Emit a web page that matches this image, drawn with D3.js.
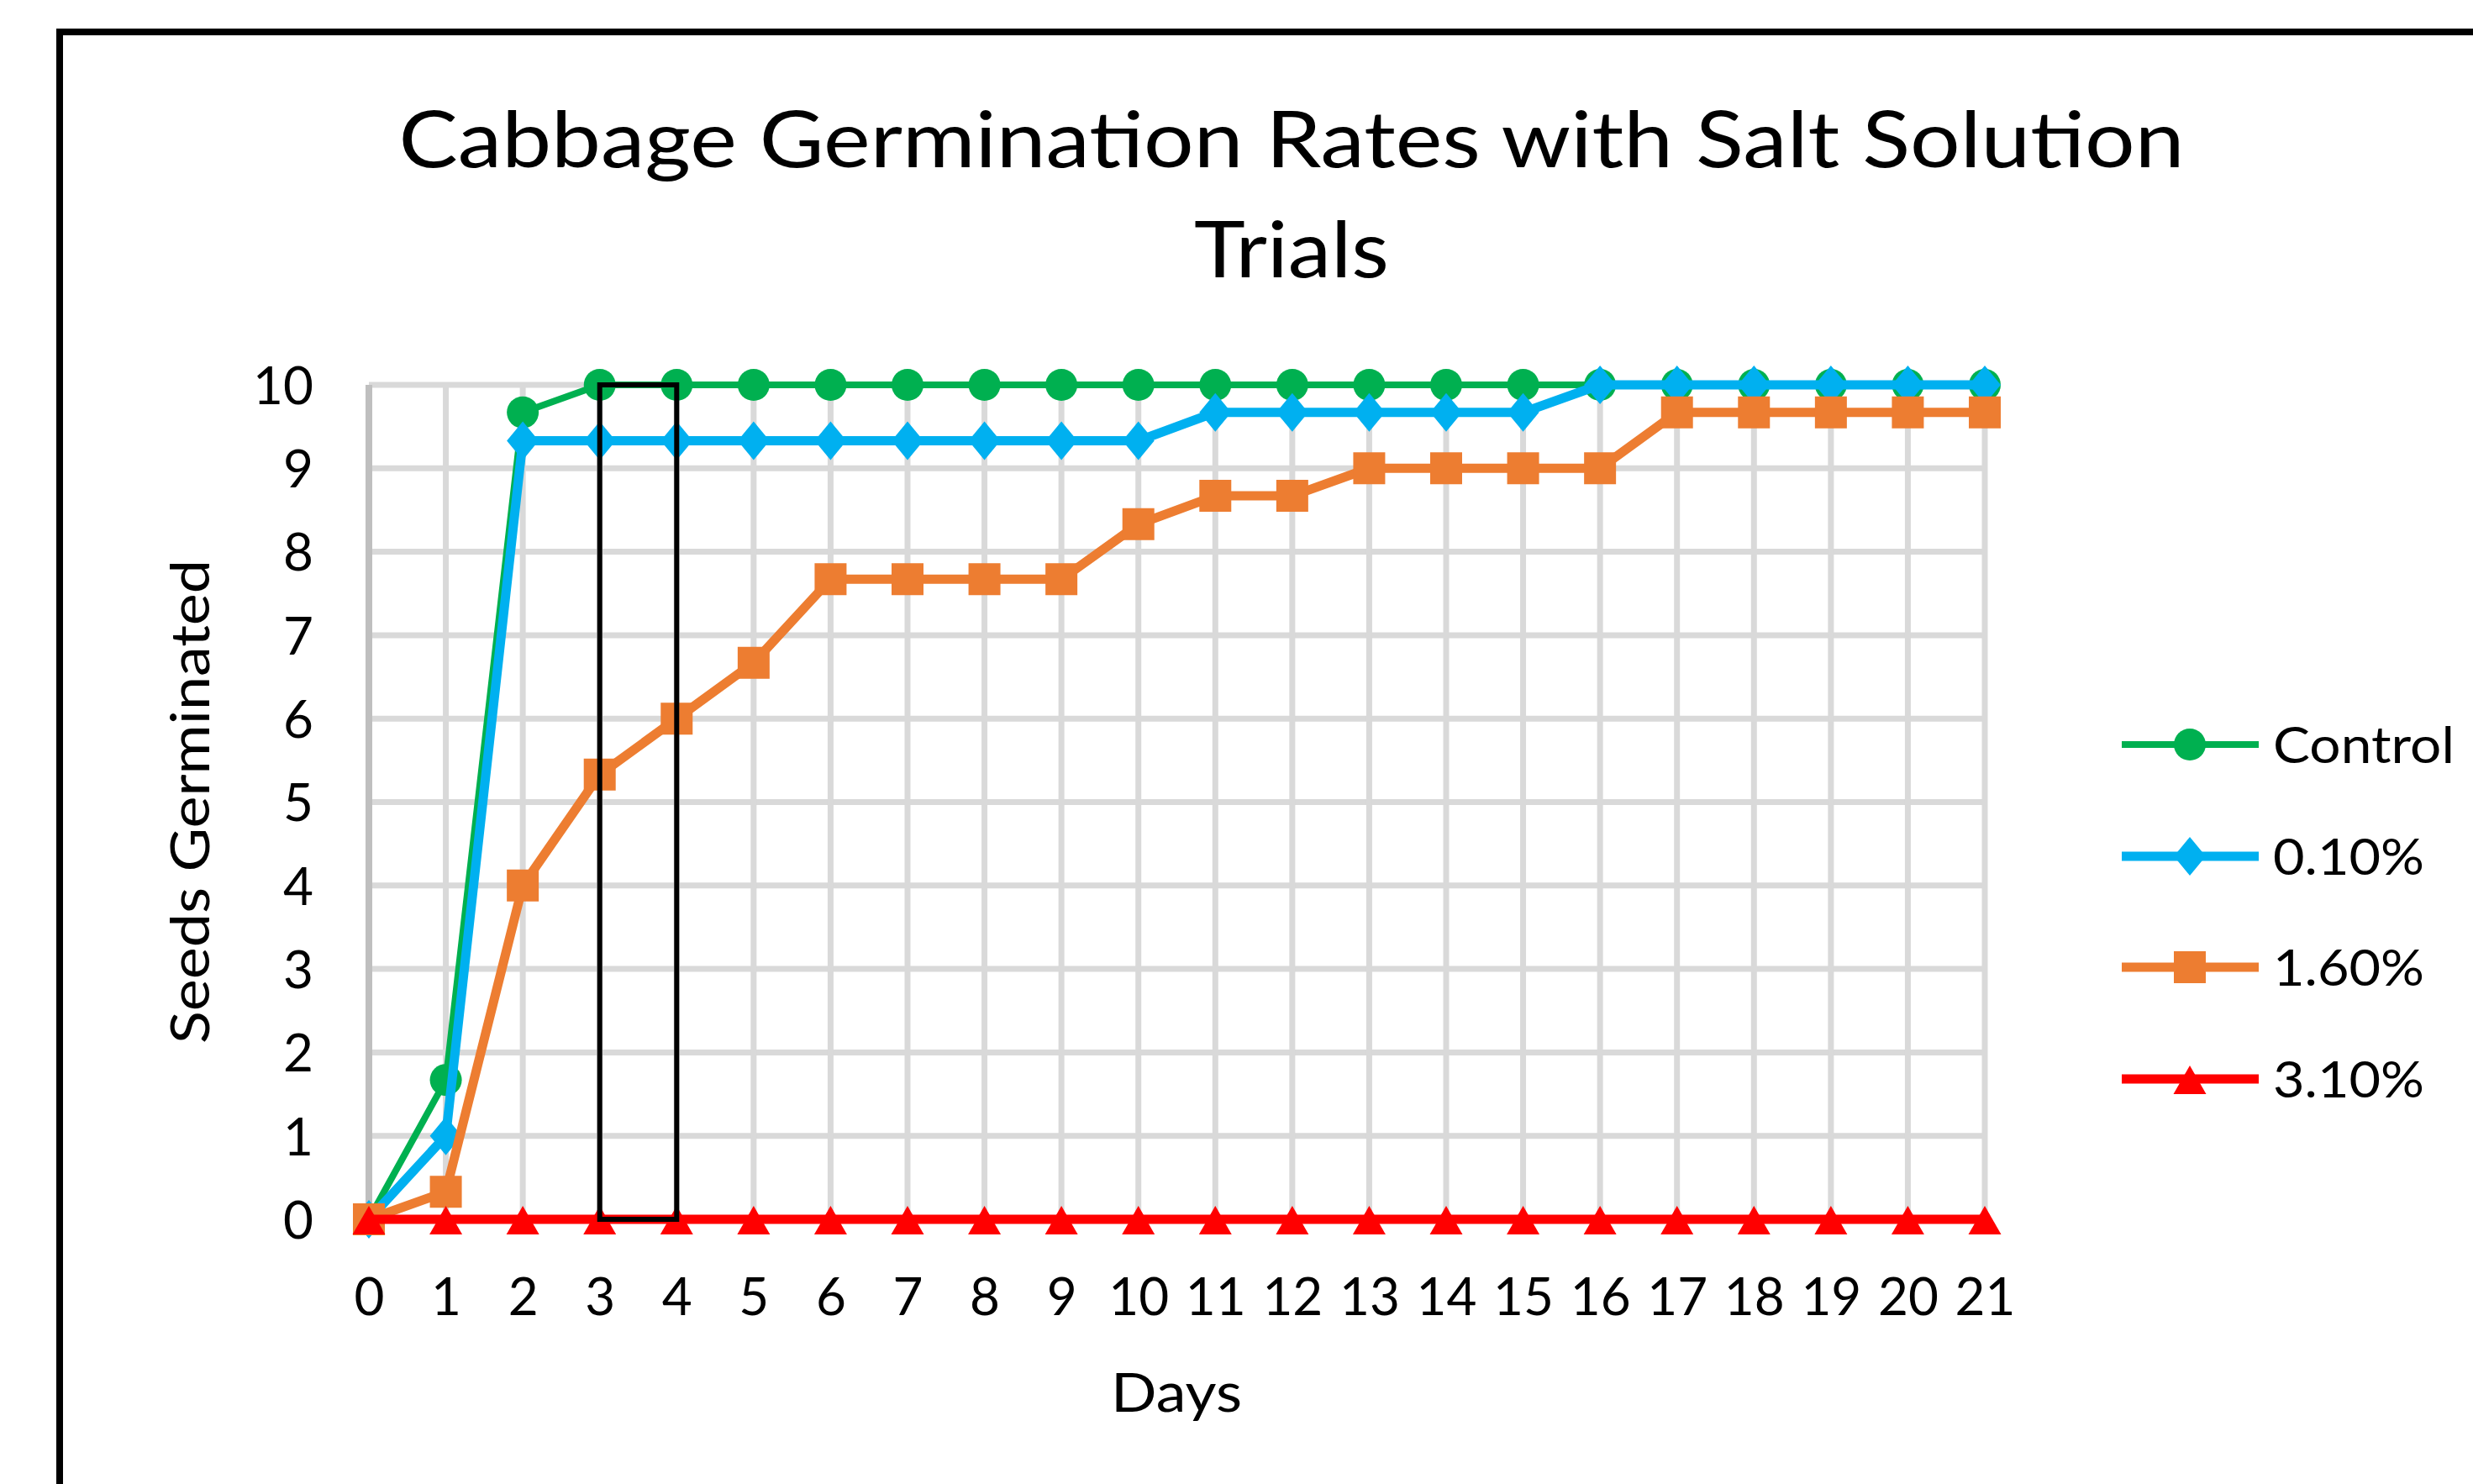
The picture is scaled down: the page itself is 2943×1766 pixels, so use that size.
<!DOCTYPE html>
<html><head><meta charset="utf-8">
<script src="https://cdn.jsdelivr.net/npm/d3@7"></script>
<style>html,body{margin:0;padding:0;background:#fff;overflow:hidden} svg{display:block}</style>
</head><body><script>
// ---- data ----
const days = [0,1,2,3,4,5,6,7,8,9,10,11,12,13,14,15,16,17,18,19,20,21];
const yTicks = [0,1,2,3,4,5,6,7,8,9,10];
const seriesNames = ["Control","0.10%","1.60%","3.10%"];
const control = [0,1.67,9.67,10,10,10,10,10,10,10,10,10,10,10,10,10,10,10,10,10,10,10];
const salt010 = [0,1,9.33,9.33,9.33,9.33,9.33,9.33,9.33,9.33,9.33,9.67,9.67,9.67,9.67,9.67,10,10,10,10,10,10];
const salt160 = [0,0.33,4,5.33,6,6.67,7.67,7.67,7.67,7.67,8.33,8.67,8.67,9,9,9,9,9.67,9.67,9.67,9.67,9.67];
const salt310 = [0,0,0,0,0,0,0,0,0,0,0,0,0,0,0,0,0,0,0,0,0,0];
const highlight = [3,4]; // boxed days
const titleLines = ["Cabbage Germination Rates with Salt Solution","Trials"];

// ---- layout ----
const W = 2943, H = 1766;
const FONT = "Lato, 'Open Sans', sans-serif";
const svg = d3.select("body").append("svg").attr("width", W).attr("height", H);
svg.append("rect").attr("width", W).attr("height", H).attr("fill", "#fff");

const x = d3.scaleLinear().domain([0,21]).range([439,2362]);
const y = d3.scaleLinear().domain([0,10]).range([1451,458]);

// outer border
svg.append("rect").attr("x",71).attr("y",38).attr("width",3100).attr("height",2000)
  .attr("fill","none").attr("stroke","#000").attr("stroke-width",8);

// title
const title = svg.append("g");
title.append("text").attr("x",1537).attr("y",199).attr("text-anchor","middle")
  .attr("font-family",FONT).attr("font-size",94).attr("fill","#000")
  .attr("textLength",2125).attr("lengthAdjust","spacingAndGlyphs").text(titleLines[0]);
title.append("text").attr("x",1537).attr("y",330).attr("text-anchor","middle")
  .attr("font-family",FONT).attr("font-size",94).attr("fill","#000")
  .attr("textLength",232).attr("lengthAdjust","spacingAndGlyphs").text(titleLines[1]);

// gridlines
const grid = svg.append("g");
grid.selectAll("line.h").data(yTicks.filter(d=>d>0)).join("line")
  .attr("x1",x(0)).attr("x2",x(21)).attr("y1",d=>y(d)).attr("y2",d=>y(d))
  .attr("stroke","#d9d9d9").attr("stroke-width",7);
grid.selectAll("line.v").data(days.filter(d=>d>0)).join("line")
  .attr("y1",y(0)).attr("y2",y(10)).attr("x1",d=>x(d)).attr("x2",d=>x(d))
  .attr("stroke","#d9d9d9").attr("stroke-width",7);
// axis lines
grid.append("line").attr("x1",x(0)).attr("x2",x(0)).attr("y1",y(0)).attr("y2",y(10))
  .attr("stroke","#bfbfbf").attr("stroke-width",8);
grid.append("line").attr("x1",x(0)).attr("x2",x(21)).attr("y1",y(0)).attr("y2",y(0))
  .attr("stroke","#bfbfbf").attr("stroke-width",8);

// axes (labels only)
const yAxis = svg.append("g").attr("transform",`translate(${x(0)},0)`)
  .call(d3.axisLeft(y).tickValues(yTicks).tickSize(0).tickPadding(66).tickFormat(d3.format("d")));
yAxis.select(".domain").remove();
yAxis.selectAll("text").attr("font-family",FONT).attr("font-size",62).attr("fill","#000").attr("dy","0.36em");

const xAxis = svg.append("g").attr("transform",`translate(0,${y(0)})`)
  .call(d3.axisBottom(x).tickValues(days).tickSize(0).tickPadding(92).tickFormat(d3.format("d")));
xAxis.select(".domain").remove();
xAxis.selectAll("text").attr("font-family",FONT).attr("font-size",62).attr("fill","#000").attr("dy","0.36em");

// axis titles
svg.append("text").attr("transform","translate(249,954) rotate(-90)").attr("text-anchor","middle")
  .attr("font-family",FONT).attr("font-size",64).attr("fill","#000")
  .attr("textLength",576).attr("lengthAdjust","spacingAndGlyphs").text("Seeds Germinated");
svg.append("text").attr("x",1400).attr("y",1680).attr("text-anchor","middle")
  .attr("font-family",FONT).attr("font-size",64).attr("fill","#000")
  .attr("textLength",156).attr("lengthAdjust","spacingAndGlyphs").text("Days");

// marker shapes
const circleType = d3.symbolCircle;
const diamondType = {draw(c){c.moveTo(0,-23);c.lineTo(19,0);c.lineTo(0,23);c.lineTo(-19,0);c.closePath();}};
const squareType = {draw(c){c.moveTo(-19,-19);c.lineTo(19,-19);c.lineTo(19,19);c.lineTo(-19,19);c.closePath();}};
const triangleType = {draw(c){c.moveTo(0,-16);c.lineTo(19.5,18);c.lineTo(-19.5,18);c.closePath();}};

const series = [
  {name:seriesNames[0], values:control, color:"#00b050", width:8, type:circleType, size:Math.PI*19*19},
  {name:seriesNames[1], values:salt010, color:"#00b0f0", width:11, type:diamondType, size:1},
  {name:seriesNames[2], values:salt160, color:"#ed7d31", width:11, type:squareType, size:1},
  {name:seriesNames[3], values:salt310, color:"#ff0000", width:11, type:triangleType, size:1}
];

const line = d3.line().x((d,i)=>x(days[i])).y(d=>y(d));
const plot = svg.append("g");
series.forEach(s=>{
  const g = plot.append("g");
  g.append("path").attr("d",line(s.values)).attr("fill","none")
    .attr("stroke",s.color).attr("stroke-width",s.width).attr("stroke-linejoin","round");
  const sym = d3.symbol().type(s.type).size(s.size);
  g.selectAll("path.m").data(s.values).join("path").attr("class","m")
    .attr("transform",(d,i)=>`translate(${x(days[i])},${y(d)})`)
    .attr("d",sym()).attr("fill",s.color);
});

// highlight box
svg.append("rect").attr("x",x(highlight[0])).attr("y",y(10))
  .attr("width",x(highlight[1])-x(highlight[0])).attr("height",y(0)-y(10))
  .attr("fill","none").attr("stroke","#000").attr("stroke-width",6);

// legend
const legendY = [886,1019,1151,1284];
const legendW = [216,180,180,180];
const lg = svg.append("g");
series.forEach((s,i)=>{
  const g = lg.append("g").attr("transform",`translate(0,${legendY[i]})`);
  g.append("line").attr("x1",2525).attr("x2",2688).attr("y1",0).attr("y2",0)
    .attr("stroke",s.color).attr("stroke-width",s.width);
  g.append("path").attr("transform","translate(2606,0)").attr("d",d3.symbol().type(s.type).size(s.size)()).attr("fill",s.color);
  g.append("text").attr("x",2705).attr("y",22).attr("font-family",FONT).attr("font-size",60)
    .attr("fill","#000").attr("textLength",legendW[i]).attr("lengthAdjust","spacingAndGlyphs").text(s.name);
});
</script></body></html>
